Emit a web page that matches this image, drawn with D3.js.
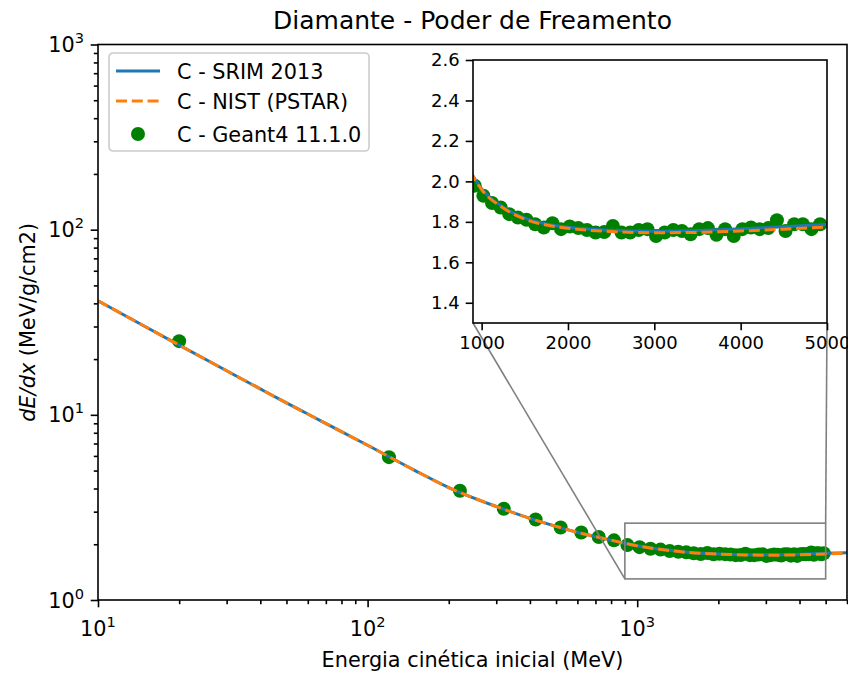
<!DOCTYPE html>
<html>
<head>
<meta charset="utf-8">
<script src="https://cdn.jsdelivr.net/npm/d3@7"></script>
<style>
    body { margin: 0; background: #fff; }
    svg { display: block; font-family: "DejaVu Sans", sans-serif; }
</style>
</head>
<body>
<div id="root"></div>
<script>
// Stopping power of diamond: SRIM, NIST and Geant4, log-log with a zoomed inset
"use strict";

/* ************************************* Data ******************************** */

// Energies (MeV) of the tabulated curves
const curveEnergy = [10, 15, 20, 30, 40, 50, 60, 80, 100, 150, 200, 300, 400, 500, 600, 700,
    800, 900, 1000, 1250, 1500, 1750, 2000, 2500, 3000, 3500, 4000, 4500, 5000, 6000, 7000];

// dE/dx (MeV cm2/g)
const srimValues = [41.3, 29.9, 23.8, 17.3, 13.8, 11.6, 10.1, 8.11, 6.85, 5.00, 4.05, 3.20, 2.76, 2.50, 2.32, 2.20,
    2.105, 2.027, 1.963, 1.872, 1.818, 1.789, 1.773, 1.758, 1.753, 1.757, 1.766, 1.776, 1.787, 1.801, 1.815];
const nistValues = [41.3, 29.9, 23.8, 17.3, 13.8, 11.6, 10.1, 8.11, 6.85, 5.00, 4.05, 3.20, 2.76, 2.50, 2.32, 2.20,
    2.105, 2.025, 1.960, 1.868, 1.813, 1.784, 1.768, 1.752, 1.746, 1.748, 1.755, 1.764, 1.774, 1.787, 1.800];

// Geant4 simulation points
const geantEnergy = [20, 120, 220, 320, 420, 520, 620, 720, 820, 920,
    1020, 1120, 1220, 1320, 1420, 1520, 1620, 1720, 1820, 1920,
    2020, 2120, 2220, 2320, 2420, 2520, 2620, 2720, 2820, 2920,
    3020, 3120, 3220, 3320, 3420, 3520, 3620, 3720, 3820, 3920,
    4020, 4120, 4220, 4320, 4420, 4520, 4620, 4720, 4820, 4920];
const geantValues = [25.0, 5.91, 3.89, 3.11, 2.72, 2.465, 2.315, 2.19, 2.10, 1.979,
    1.929, 1.893, 1.871, 1.838, 1.821, 1.810, 1.788, 1.772, 1.793, 1.764,
    1.777, 1.769, 1.760, 1.747, 1.750, 1.780, 1.747, 1.747, 1.760, 1.764,
    1.730, 1.747, 1.760, 1.755, 1.739, 1.764, 1.769, 1.736, 1.764, 1.730,
    1.764, 1.772, 1.764, 1.769, 1.808, 1.755, 1.788, 1.788, 1.764, 1.788];

const seriesNames = ["C - SRIM 2013", "C - NIST (PSTAR)", "C - Geant4 11.1.0"];

// Ticks
const xMajorTicks = [10, 100, 1000];
const yMajorTicks = [1, 10, 100, 1000];
const insetXTicks = [1000, 2000, 3000, 4000, 5000];
const insetYTicks = [1.4, 1.6, 1.8, 2.0, 2.2, 2.4, 2.6];

/* ************************************* Set up ******************************** */

const width = 848;
const height = 673;

const margin = { top: 44.5, right: 1, bottom: 73, left: 98 };
let drawWidth = width - margin.left - margin.right;
let drawHeight = height - margin.top - margin.bottom;

const inset = { left: 473, top: 60, width: 354, height: 263 };
const zoomX = [900, 5000];
const zoomY = [1.3, 2.6];

const blue = "#1f77b4";
const orange = "#ff7f0e";
const green = "#008000";
const lineW = 3;
const dash = "11,4.8";
const dotR = 7;
const tickFont = 20.8;
const insetFont = 18;
const axisW = 1.6;
const majorLen = 7.3;
const minorLen = 4.2;

let svg = d3.select('#root')
    .append('svg')
    .attr('width', width)
    .attr('height', height);

/* ************************************* Scales ******************************** */

let xScale = d3.scaleLog()
    .domain([10, 6000])
    .range([margin.left, margin.left + drawWidth]);

let yScale = d3.scaleLog()
    .domain([1, 1000])
    .range([margin.top + drawHeight, margin.top]);

let ixScale = d3.scaleLinear()
    .domain(zoomX)
    .range([inset.left, inset.left + inset.width]);

let iyScale = d3.scaleLinear()
    .domain(zoomY)
    .range([inset.top + inset.height, inset.top]);

// minor tick positions for a log axis
function minorTicks(lo, hi) {
    let out = [];
    for (let p = Math.floor(Math.log10(lo)); p <= Math.ceil(Math.log10(hi)); p++) {
        for (let m = 2; m <= 9; m++) {
            let v = m * Math.pow(10, p);
            if (v >= lo && v <= hi) out.push(v);
        }
    }
    return out;
}

// 10^n label with a superscript
function powLabel(sel, v) {
    let p = Math.round(Math.log10(v));
    sel.append('tspan').text('10');
    sel.append('tspan').attr('dy', -9).attr('font-size', 14.6).text(p);
}

/* ************************************* Main axes ******************************** */

svg.append('clipPath').attr('id', 'mainClip')
    .append('rect')
    .attr('x', margin.left).attr('y', margin.top)
    .attr('width', drawWidth).attr('height', drawHeight);

let chartG = svg.append('g').attr('clip-path', 'url(#mainClip)');

let curve = (xs, ys) => d3.line()
    .x((d) => xs(d[0]))
    .y((d) => ys(d[1]))
    .curve(d3.curveMonotoneX);

let srimData = curveEnergy.map((e, i) => [e, srimValues[i]]);
let nistData = curveEnergy.map((e, i) => [e, nistValues[i]]);
let geantData = geantEnergy.map((e, i) => [e, geantValues[i]]);

chartG.selectAll('circle').data(geantData).enter().append('circle')
    .attr('cx', (d) => xScale(d[0]))
    .attr('cy', (d) => yScale(d[1]))
    .attr('r', dotR)
    .attr('fill', green);

chartG.append('path').datum(srimData)
    .attr('d', curve(xScale, yScale))
    .attr('fill', 'none').attr('stroke', blue).attr('stroke-width', lineW);

chartG.append('path').datum(nistData)
    .attr('d', curve(xScale, yScale))
    .attr('fill', 'none').attr('stroke', orange).attr('stroke-width', lineW)
    .attr('stroke-dasharray', dash);

// x axis
svg.append('g')
    .attr('transform', `translate(0,${margin.top + drawHeight})`)
    .call(d3.axisBottom(xScale).tickValues(xMajorTicks).tickFormat('').tickSize(majorLen).tickSizeOuter(0));
svg.append('g')
    .attr('transform', `translate(0,${margin.top + drawHeight})`)
    .call(d3.axisBottom(xScale).tickValues(minorTicks(10, 6000)).tickFormat('').tickSize(minorLen).tickSizeOuter(0));

xMajorTicks.forEach((v) => {
    svg.append('text')
        .attr('x', xScale(v))
        .attr('y', margin.top + drawHeight + 36)
        .attr('text-anchor', 'middle')
        .attr('font-size', tickFont)
        .call(powLabel, v);
});

// y axis
svg.append('g')
    .attr('transform', `translate(${margin.left},0)`)
    .call(d3.axisLeft(yScale).tickValues(yMajorTicks).tickFormat('').tickSize(majorLen).tickSizeOuter(0));
svg.append('g')
    .attr('transform', `translate(${margin.left},0)`)
    .call(d3.axisLeft(yScale).tickValues(minorTicks(1, 1000)).tickFormat('').tickSize(minorLen).tickSizeOuter(0));

yMajorTicks.forEach((v) => {
    svg.append('text')
        .attr('x', margin.left - 14)
        .attr('y', yScale(v) + 7.5)
        .attr('text-anchor', 'end')
        .attr('font-size', tickFont)
        .call(powLabel, v);
});

svg.selectAll('.domain').remove();
svg.selectAll('.tick line').attr('stroke', '#000').attr('stroke-width', axisW);

// frame
svg.append('rect')
    .attr('x', margin.left).attr('y', margin.top)
    .attr('width', drawWidth).attr('height', drawHeight)
    .attr('fill', 'none').attr('stroke', '#000').attr('stroke-width', axisW);

// title and labels
svg.append('text')
    .attr('x', margin.left + drawWidth / 2)
    .attr('y', 29)
    .attr('text-anchor', 'middle')
    .attr('font-size', 25)
    .text("Diamante - Poder de Freamento");

svg.append('text')
    .attr('x', margin.left + drawWidth / 2)
    .attr('y', 667)
    .attr('text-anchor', 'middle')
    .attr('font-size', tickFont)
    .text("Energia cinética inicial (MeV)");

let yLab = svg.append('text')
    .attr('transform', `translate(35,${margin.top + drawHeight / 2}) rotate(-90)`)
    .attr('text-anchor', 'middle')
    .attr('font-size', tickFont);
yLab.append('tspan').attr('font-style', 'italic').text('dE/dx');
yLab.append('tspan').text(' (MeV/g/cm2)');

/* ************************************* Zoom indicator ******************************** */

let gray = "#808080";
svg.append('rect')
    .attr('x', xScale(zoomX[0])).attr('y', yScale(zoomY[1]))
    .attr('width', xScale(zoomX[1]) - xScale(zoomX[0]))
    .attr('height', yScale(zoomY[0]) - yScale(zoomY[1]))
    .attr('fill', 'none').attr('stroke', gray).attr('stroke-width', axisW);

svg.append('line')
    .attr('x1', inset.left).attr('y1', inset.top + inset.height)
    .attr('x2', xScale(zoomX[0])).attr('y2', yScale(zoomY[0]))
    .attr('stroke', gray).attr('stroke-width', axisW);
svg.append('line')
    .attr('x1', inset.left + inset.width).attr('y1', inset.top + inset.height)
    .attr('x2', xScale(zoomX[1])).attr('y2', yScale(zoomY[1]))
    .attr('stroke', gray).attr('stroke-width', axisW);

/* ************************************* Legend ******************************** */

let legend = svg.append('g').attr('transform', 'translate(109,53)');
legend.append('rect')
    .attr('width', 260).attr('height', 98).attr('rx', 4)
    .attr('fill', '#fff').attr('fill-opacity', 0.8)
    .attr('stroke', '#cccccc').attr('stroke-width', axisW);

let rowY = [18, 48, 81];
legend.append('line')
    .attr('x1', 7).attr('x2', 51).attr('y1', rowY[0]).attr('y2', rowY[0])
    .attr('stroke', blue).attr('stroke-width', lineW);
legend.append('line')
    .attr('x1', 7).attr('x2', 51).attr('y1', rowY[1]).attr('y2', rowY[1])
    .attr('stroke', orange).attr('stroke-width', lineW).attr('stroke-dasharray', dash);
legend.append('circle')
    .attr('cx', 29).attr('cy', rowY[2]).attr('r', dotR).attr('fill', green);

seriesNames.forEach((name, i) => {
    legend.append('text')
        .attr('x', 68).attr('y', rowY[i] + 7.5)
        .attr('font-size', tickFont)
        .text(name);
});

/* ************************************* Inset ******************************** */

svg.append('rect')
    .attr('x', inset.left).attr('y', inset.top)
    .attr('width', inset.width).attr('height', inset.height)
    .attr('fill', '#fff');

svg.append('clipPath').attr('id', 'insetClip')
    .append('rect')
    .attr('x', inset.left).attr('y', inset.top)
    .attr('width', inset.width).attr('height', inset.height);

let insetG = svg.append('g').attr('clip-path', 'url(#insetClip)');

insetG.selectAll('circle').data(geantData).enter().append('circle')
    .attr('cx', (d) => ixScale(d[0]))
    .attr('cy', (d) => iyScale(d[1]))
    .attr('r', dotR)
    .attr('fill', green);

insetG.append('path').datum(srimData)
    .attr('d', curve(ixScale, iyScale))
    .attr('fill', 'none').attr('stroke', blue).attr('stroke-width', lineW);

insetG.append('path').datum(nistData)
    .attr('d', curve(ixScale, iyScale))
    .attr('fill', 'none').attr('stroke', orange).attr('stroke-width', lineW)
    .attr('stroke-dasharray', dash);

let insetAxes = svg.append('g');

insetAxes.append('g')
    .attr('transform', `translate(0,${inset.top + inset.height})`)
    .call(d3.axisBottom(ixScale).tickValues(insetXTicks).tickFormat(d3.format('d')).tickSize(majorLen).tickPadding(6).tickSizeOuter(0));

insetAxes.append('g')
    .attr('transform', `translate(${inset.left},0)`)
    .call(d3.axisLeft(iyScale).tickValues(insetYTicks).tickFormat(d3.format('.1f')).tickSize(majorLen).tickPadding(6).tickSizeOuter(0));

insetAxes.selectAll('.domain').remove();
insetAxes.selectAll('.tick line').attr('stroke', '#000').attr('stroke-width', axisW);
insetAxes.selectAll('.tick text').attr('fill', '#000')
    .attr('font-family', '"DejaVu Sans", sans-serif').attr('font-size', insetFont);

svg.append('rect')
    .attr('x', inset.left).attr('y', inset.top)
    .attr('width', inset.width).attr('height', inset.height)
    .attr('fill', 'none').attr('stroke', '#000').attr('stroke-width', axisW);
</script>
</body>
</html>
